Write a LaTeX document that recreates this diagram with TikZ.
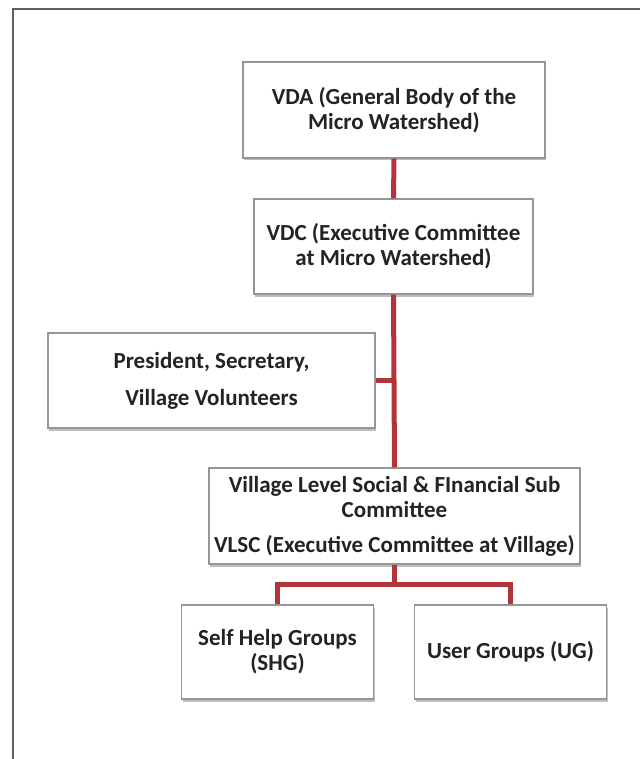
\documentclass[tikz,border=0pt]{standalone}
\usepackage{fontspec}
\setmainfont{Carlito}
\usetikzlibrary{shadows}

\definecolor{linkred}{RGB}{176,52,58}
\definecolor{boxgray}{RGB}{150,150,150}
\definecolor{framegray}{RGB}{95,95,95}
\definecolor{textgray}{RGB}{35,35,35}

\tikzset{
  orgbox/.style={draw=boxgray, line width=1.2pt, fill=white, align=center,
    inner sep=0pt, text=textgray,
    font=\fontsize{23}{25}\selectfont\bfseries,
    drop shadow={shadow xshift=1pt, shadow yshift=-2.5pt, opacity=0.5, fill=gray}},
  link/.style={draw=linkred, line width=5pt}
}

\begin{document}
\begin{tikzpicture}[x=1pt, y=-1pt]

    \useasboundingbox (0,0) rectangle (640,759);

    % Outer frame
    \draw[framegray, line width=2pt] (13,759) -- (13,9) -- (640,9);

    % Top: watershed level
    \node[orgbox, minimum width=302pt, minimum height=96pt] (vda) at (394,110)
      {VDA (General Body of the\\ Micro Watershed)};
    \node[orgbox, minimum width=279pt, minimum height=95pt] (vdc) at (393.5,246.5)
      {VDC (Executive Committee\\ at Micro Watershed)};

    % Side box: office bearers
    \node[orgbox, minimum width=327pt, minimum height=95pt] (pres) at (211.5,380.5)
      {President, Secretary,\\[12pt] Village Volunteers};

    % Village level
    \node[orgbox, minimum width=371pt, minimum height=96pt] (vlsc) at (394.5,516)
      {Village Level Social \& FInancial Sub\\ Committee\\[10pt] VLSC (Executive Committee at Village)};

    % Bottom: groups
    \node[orgbox, minimum width=192pt, minimum height=94pt] (shg) at (277.5,652)
      {Self Help Groups\\ (SHG)};
    \node[orgbox, minimum width=192pt, minimum height=94pt] (ug) at (510.5,652)
      {User Groups (UG)};

    % Connectors
    \coordinate (split) at (394.5,584);
    \draw[link] (vda.south) -- (vdc.north);
    \draw[link] (vdc.south) -- (vlsc.north);
    \draw[link] (pres.east) -- (pres.east -| vdc.south);
    \draw[link] (vlsc.south) -- (split);
    \draw[link] (shg.north) |- (split) -| (ug.north);

  \end{tikzpicture}
\end{document}
